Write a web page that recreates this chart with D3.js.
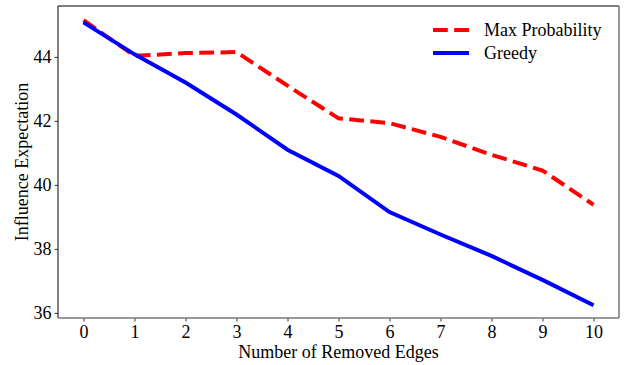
<!DOCTYPE html>
<html>
<head>
<meta charset="utf-8">
<script src="https://cdn.jsdelivr.net/npm/d3@7"></script>
<style>
  body { margin: 0; background: #fff; }
</style>
</head>
<body>
<div id="chart"></div>
<script>
const edges = [0, 1, 2, 3, 4, 5, 6, 7, 8, 9, 10];
const maxProb = [45.15, 44.03, 44.12, 44.15, 43.1, 42.08, 41.93, 41.5, 40.94, 40.45, 39.38];
const greedy = [45.08, 44.08, 43.2, 42.2, 41.1, 40.28, 39.15, 38.45, 37.78, 37.03, 36.24];
const yTicks = [36, 38, 40, 42, 44];

const FONT = "'Liberation Serif', 'DejaVu Serif', serif";
const FS = 18;

const width = 628, height = 365;
const margin = { top: 6, right: 9, bottom: 47, left: 58 };
const w = width - margin.left - margin.right;
const h = height - margin.top - margin.bottom;

const svg = d3.select("#chart").append("svg")
  .attr("width", width)
  .attr("height", height)
  .style("font-family", FONT);

const g = svg.append("g")
  .attr("transform", "translate(" + margin.left + "," + margin.top + ")");

const x = d3.scaleLinear().domain([-0.5, 10.5]).range([0, w]);
const y = d3.scaleLinear().domain([35.84, 45.59]).range([h, 0]);

// axes
const xAxis = g.append("g")
  .attr("transform", "translate(0," + h + ")")
  .call(d3.axisBottom(x).tickValues(edges).tickFormat(d3.format("d")).tickSize(3.5).tickPadding(4));
const yAxis = g.append("g")
  .call(d3.axisLeft(y).tickValues(yTicks).tickFormat(d3.format("d")).tickSize(3.5).tickPadding(3));

[xAxis, yAxis].forEach(a => {
  a.attr("font-family", null).attr("font-size", FS);
  a.select(".domain").remove();
  a.selectAll("line").attr("stroke", "#000").attr("stroke-width", 0.8);
  a.selectAll("text").attr("fill", "#000").style("font-family", FONT);
});

// frame
g.append("line").attr("x1", 0).attr("x2", w).attr("y1", 0).attr("y2", 0).attr("stroke", "#000").attr("stroke-width", 1);
g.append("line").attr("x1", 0).attr("x2", 0).attr("y1", 0).attr("y2", h).attr("stroke", "#000").attr("stroke-width", 1);
g.append("line").attr("x1", w).attr("x2", w).attr("y1", 0).attr("y2", h).attr("stroke", "#777").attr("stroke-width", 1.5);
g.append("line").attr("x1", 0).attr("x2", w).attr("y1", h).attr("y2", h).attr("stroke", "#777").attr("stroke-width", 1.5);

const line = d3.line().x((d, i) => x(edges[i])).y(d => y(d));

g.append("path")
  .datum(maxProb)
  .attr("d", line)
  .attr("fill", "none")
  .attr("stroke", "#ff0000")
  .attr("stroke-width", 4)
  .attr("stroke-dasharray", "14.8,6.4");

g.append("path")
  .datum(greedy)
  .attr("d", line)
  .attr("fill", "none")
  .attr("stroke", "#0000ff")
  .attr("stroke-width", 4);

// legend
const legend = [
  { name: "Max Probability", color: "#ff0000", dash: "14.8,6.4" },
  { name: "Greedy", color: "#0000ff", dash: null }
];
const lg = svg.append("g").attr("transform", "translate(433,30)");
legend.forEach((d, i) => {
  lg.append("line")
    .attr("x1", 0).attr("x2", 36)
    .attr("y1", i * 23).attr("y2", i * 23)
    .attr("stroke", d.color).attr("stroke-width", 4)
    .attr("stroke-dasharray", d.dash);
  lg.append("text")
    .attr("x", 51).attr("y", i * 23 + 6)
    .style("font-family", FONT)
    .attr("font-size", FS)
    .text(d.name);
});

// labels
svg.append("text")
  .attr("x", margin.left + w / 2).attr("y", 358)
  .attr("text-anchor", "middle")
  .style("font-family", FONT)
  .attr("font-size", FS)
  .text("Number of Removed Edges");

svg.append("text")
  .attr("transform", "translate(28," + (margin.top + h / 2) + ") rotate(-90)")
  .attr("text-anchor", "middle")
  .style("font-family", FONT)
  .attr("font-size", FS)
  .text("Influence Expectation");
</script>
</body>
</html>
